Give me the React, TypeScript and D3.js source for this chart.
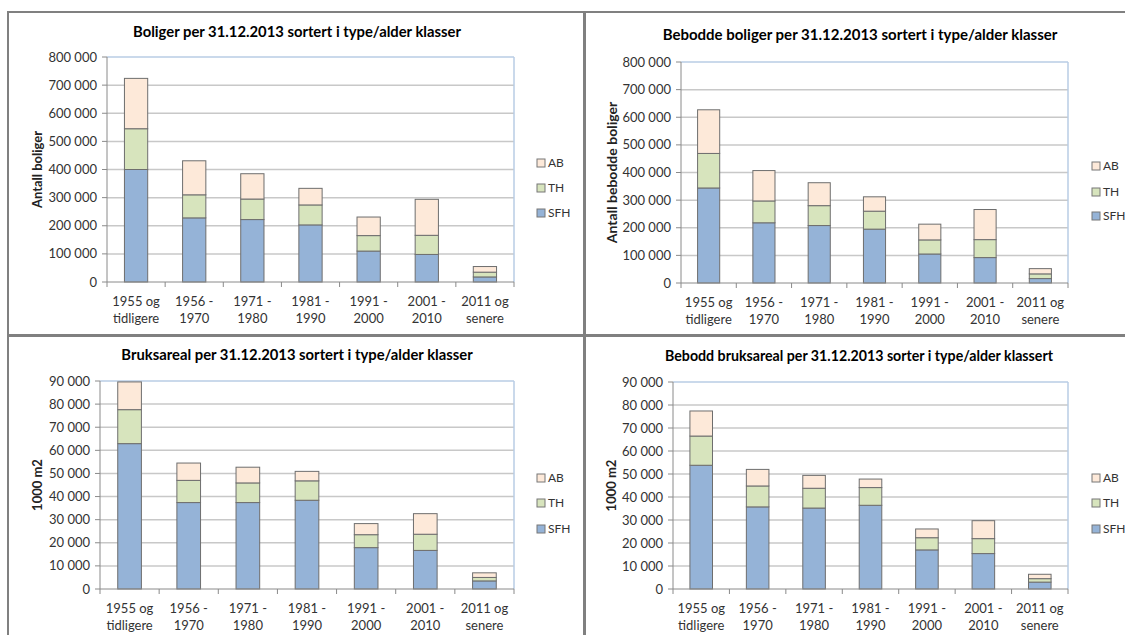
import React from "react";
import * as d3 from "d3";

const categories = [
  ["1955 og", "tidligere"],
  ["1956 -", "1970"],
  ["1971 -", "1980"],
  ["1981 -", "1990"],
  ["1991 -", "2000"],
  ["2001 -", "2010"],
  ["2011 og", "senere"],
];
const seriesNames = ["SFH", "TH", "AB"];

// Panel 1: Boliger
const boligerSFH = [400000, 228000, 222000, 203000, 110000, 98000, 18000];
const boligerTH = [145000, 82000, 73000, 71000, 55000, 68000, 17000];
const boligerAB = [179000, 121000, 90000, 59000, 66000, 128000, 20000];

// Panel 2: Bebodde boliger
const bebSFH = [344000, 218000, 208000, 195000, 105000, 92000, 16000];
const bebTH = [125000, 79000, 72000, 65000, 51000, 65000, 17000];
const bebAB = [158000, 110000, 83000, 52000, 57000, 109000, 19000];

// Panel 3: Bruksareal (1000 m2)
const bruksSFH = [62900, 37400, 37400, 38400, 17900, 16700, 3500];
const bruksTH = [14700, 9600, 8500, 8400, 5600, 7000, 1500];
const bruksAB = [12000, 7500, 6800, 4100, 4800, 8900, 2000];

// Panel 4: Bebodd bruksareal (1000 m2)
const bebBruksSFH = [53800, 35700, 35200, 36400, 17000, 15400, 3000];
const bebBruksTH = [12700, 9100, 8600, 7700, 5300, 6500, 1500];
const bebBruksAB = [10900, 7200, 5600, 3700, 3800, 7800, 1900];

const titles = [
  "Boliger per 31.12.2013 sortert i type/alder klasser",
  "Bebodde boliger per 31.12.2013 sortert i type/alder klasser",
  "Bruksareal per 31.12.2013 sortert i type/alder klasser",
  "Bebodd bruksareal per 31.12.2013 sorter i type/alder klassert",
];
const yTitles = ["Antall boliger", "Antall bebodde boliger", "1000 m2", "1000 m2"];
const yMax = [800000, 800000, 90000, 90000];
const yStep = [100000, 100000, 10000, 10000];

const colors: Record<string, string> = { SFH: "#95b3d7", TH: "#d7e4bd", AB: "#fde9d9" };
const FONT = "Lato, 'Open Sans', sans-serif";

const locale = d3.formatLocale({ thousands: "\u00a0", grouping: [3], decimal: ",", currency: ["", ""] });
const fmt = locale.format(",d");

type Layout = {
  left: number; right: number; top: number; bottom: number;
  titleX: number; titleY: number; titleSize: number;
  yTitleX: number; yTitleSize: number; legendX: number; legendY: number[];
};

const layouts: Layout[] = [
  { left: 107, right: 514, top: 57, bottom: 282, titleX: 297, titleY: 37, titleSize: 14.8, yTitleX: 37, yTitleSize: 13, legendX: 537, legendY: [163, 188, 213] },
  { left: 681, right: 1068, top: 62, bottom: 283, titleX: 860, titleY: 40, titleSize: 15, yTitleX: 612, yTitleSize: 14, legendX: 1092, legendY: [166, 192, 216] },
  { left: 100, right: 514, top: 381, bottom: 589, titleX: 297, titleY: 360, titleSize: 14.8, yTitleX: 37, yTitleSize: 13, legendX: 537, legendY: [478, 503, 529] },
  { left: 673, right: 1068, top: 382, bottom: 589, titleX: 859, titleY: 361, titleSize: 14.2, yTitleX: 611, yTitleSize: 13, legendX: 1092, legendY: [478, 503, 529] },
];

const panelData = [
  [boligerSFH, boligerTH, boligerAB],
  [bebSFH, bebTH, bebAB],
  [bruksSFH, bruksTH, bruksAB],
  [bebBruksSFH, bebBruksTH, bebBruksAB],
];

function Panel({ idx }: { idx: number }) {
  const L = layouts[idx];
  const data = panelData[idx];
  const rows = categories.map((c, i) => {
    const r: any = { cat: c.join(" ") };
    seriesNames.forEach((s, k) => (r[s] = data[k][i]));
    return r;
  });
  const stacked = d3.stack().keys(seriesNames)(rows);
  const x = d3
    .scaleBand<string>()
    .domain(rows.map((r) => r.cat))
    .range([L.left, L.right])
    .paddingInner(0.6)
    .paddingOuter(0.3);
  const y = d3.scaleLinear().domain([0, yMax[idx]]).range([L.bottom, L.top]);
  const ticks = d3.range(0, yMax[idx] + 1, yStep[idx]);
  const step = (L.right - L.left) / categories.length;
  const bounds = d3.range(0, categories.length + 1).map((i) => L.left + i * step);
  const midY = (L.top + L.bottom) / 2;

  return (
    <g>
      <text x={L.titleX} y={L.titleY} textAnchor="middle" fontFamily={FONT} fontWeight="bold" fontSize={L.titleSize} fill="#000">
        {titles[idx]}
      </text>
      {ticks.map((t) => (
        <g key={t}>
          {t > 0 && t < yMax[idx] && (
            <line x1={L.left} x2={L.right} y1={y(t)} y2={y(t)} stroke="#c8c8c8" strokeWidth={1.5} />
          )}
          <line x1={L.left - 5} x2={L.left} y1={y(t)} y2={y(t)} stroke="#8a8a8a" strokeWidth={1} />
          <text x={L.left - 10} y={y(t)} dy="0.35em" textAnchor="end" fontFamily={FONT} fontSize={13} fill="#333">
            {fmt(t)}
          </text>
        </g>
      ))}
      <line x1={L.left} x2={L.right} y1={L.top} y2={L.top} stroke="#b9cde5" strokeWidth={1.5} />
      <line x1={L.right} x2={L.right} y1={L.top} y2={L.bottom} stroke="#b9cde5" strokeWidth={1.5} />
      <line x1={L.left} x2={L.left} y1={L.top} y2={L.bottom} stroke="#8a8a8a" strokeWidth={1} />
      {stacked.map((layer) => (
        <g key={layer.key}>
          {layer.map((d, i) => (
            <rect
              key={i}
              x={x(rows[i].cat)}
              y={y(d[1])}
              width={x.bandwidth()}
              height={y(d[0]) - y(d[1])}
              fill={colors[layer.key]}
              stroke="#6e6e6e"
              strokeWidth={1}
            />
          ))}
        </g>
      ))}
      <line x1={L.left} x2={L.right} y1={L.bottom} y2={L.bottom} stroke="#8a8a8a" strokeWidth={1} />
      {bounds.map((bx, i) => (
        <line key={i} x1={bx} x2={bx} y1={L.bottom} y2={L.bottom + 5} stroke="#8a8a8a" strokeWidth={1} />
      ))}
      {categories.map((c, i) => {
        const cx = (x(rows[i].cat) as number) + x.bandwidth() / 2;
        return (
          <text key={i} x={cx} y={L.bottom + 24} textAnchor="middle" fontFamily={FONT} fontSize={13} fill="#333">
            <tspan x={cx}>{c[0]}</tspan>
            <tspan x={cx} dy={17}>{c[1]}</tspan>
          </text>
        );
      })}
      <text
        transform={`translate(${L.yTitleX},${midY}) rotate(-90)`}
        textAnchor="middle"
        dy="0.35em"
        fontFamily={FONT}
        fontWeight="bold"
        fontSize={L.yTitleSize}
        fill="#222"
      >
        {yTitles[idx]}
      </text>
      {["AB", "TH", "SFH"].map((s, i) => (
        <g key={s}>
          <rect x={L.legendX} y={L.legendY[i] - 4} width={8} height={8} fill={colors[s]} stroke="#777" strokeWidth={1} />
          <text x={L.legendX + 11} y={L.legendY[i]} dy="0.35em" fontFamily={FONT} fontSize={12} fill="#333">
            {s}
          </text>
        </g>
      ))}
    </g>
  );
}

export default function App() {
  return (
    <svg
      width={1125}
      height={635}
      style={{ position: "absolute", left: 0, top: 0, background: "#fff" }}
    >
      <rect x={0} y={0} width={1125} height={635} fill="#fff" />
      <rect x={8} y={12} width={577} height={324} fill="none" stroke="#808080" strokeWidth={2} />
      <rect x={584} y={12} width={560} height={324} fill="none" stroke="#808080" strokeWidth={2} />
      <rect x={8} y={335} width={577} height={320} fill="none" stroke="#808080" strokeWidth={2} />
      <rect x={584} y={335} width={560} height={320} fill="none" stroke="#808080" strokeWidth={2} />
      {[0, 1, 2, 3].map((i) => (
        <Panel key={i} idx={i} />
      ))}
    </svg>
  );
}
